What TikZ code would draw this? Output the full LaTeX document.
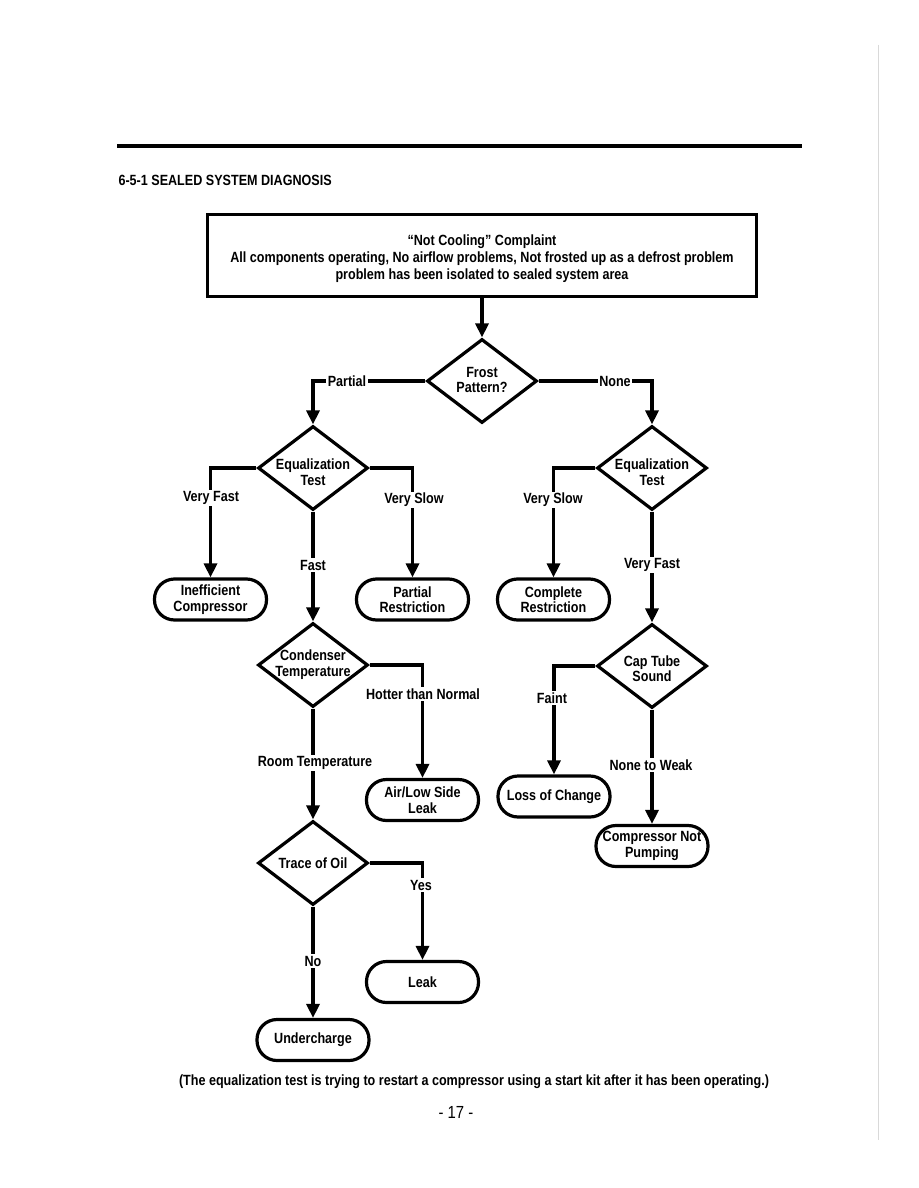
\documentclass[tikz,border=0pt]{standalone}
\usepackage{fontspec}
\setmainfont{Liberation Sans}[FakeStretch=0.85]
\usetikzlibrary{shapes.geometric,arrows.meta}
\begin{document}
\begin{tikzpicture}[x=1pt,y=-1pt,
  txt/.style={font=\fontsize{14.8}{15.5}\selectfont\bfseries},
  dec/.style={draw,line width=3.2pt,shape=diamond,minimum width=110pt,minimum height=84pt,inner sep=0pt},
  dtxt/.style={txt,align=center,inner sep=0pt},
  term/.style={txt,draw,line width=3.2pt,rounded corners=20pt,minimum width=112pt,minimum height=41pt,inner sep=0pt,align=center},
  conn/.style={line width=3.2pt,-{Triangle[length=14pt,width=13pt]}},
  lbl/.style={txt,fill=white,inner sep=1.5pt}]
\useasboundingbox[fill=white] (0,0) rectangle (918,1188);
\draw[black!15,line width=0.6pt] (878,45) -- (878,1140);
\draw[line width=3.5pt] (117,146) -- (802,146);
\node[txt,anchor=west] (title) at (115,180) {6-5-1 SEALED SYSTEM DIAGNOSIS};
% top box
\node[draw,line width=3.2pt,minimum width=549pt,minimum height=82pt] (top) at (482,255.5) {};
\node[txt,align=center,inner sep=0pt,font=\fontsize{14.8}{17}\selectfont\bfseries] (topT) at (482,258.5)
 {``Not Cooling'' Complaint\\All components operating, No airflow problems, Not frosted up as a defrost problem\\problem has been isolated to sealed system area};
% decisions
\node[dec] (frost) at (482,381) {};
\node[dtxt] (frostT) at (482,380) {Frost\\Pattern?};
\node[dec] (eqL) at (313,468) {};
\node[dtxt] (eqLT) at (313,472) {Equalization\\Test};
\node[dec] (eqR) at (652,468) {};
\node[dtxt] (eqRT) at (652,472) {Equalization\\Test};
\node[dec] (cond) at (313,665) {};
\node[dtxt] (condT) at (313,664.5) {Condenser\\Temperature};
\node[dec] (cap) at (652,666) {};
\node[dtxt] (capT) at (652,668.5) {Cap Tube\\Sound};
\node[dec] (trace) at (313,863) {};
\node[dtxt] (traceT) at (313,863) {Trace of Oil};
% terminals
\node[term] (ineff) at (210.5,599.5) {Inefficient\\Compressor};
\node[term] (partR) at (412.5,599.5) {Partial\\Restriction};
\node[term] (compR) at (553.5,599.5) {Complete\\Restriction};
\node[term] (air) at (422.5,800) {Air/Low Side\\Leak};
\node[term] (loss) at (554,796.5) {Loss of Change};
\node[term] (cnp) at (652,846) {Compressor Not\\Pumping};
\node[term] (leak) at (422.5,982) {Leak};
\node[term] (under) at (313,1040) {Undercharge};
% connectors
\draw[conn] (top.south) -- (frost.north);
\draw[conn] (frost.west) -| (eqL.north);
\draw[conn] (frost.east) -| (eqR.north);
\draw[conn] (eqL.west) -| (ineff.north);
\draw[conn] (eqL.east) -| (partR.north);
\draw[conn] (eqL.south) -- (cond.north);
\draw[conn] (eqR.west) -| (compR.north);
\draw[conn] (eqR.south) -- (cap.north);
\draw[conn] (cond.east) -| (air.north);
\draw[conn] (cond.south) -- (trace.north);
\draw[conn] (cap.west) -| (loss.north);
\draw[conn] (cap.south) -- (cnp.north);
\draw[conn] (trace.east) -| (leak.north);
\draw[conn] (trace.south) -- (under.north);
% labels
\node[lbl] (lPartial) at (347,381) {Partial};
\node[lbl] (lNone) at (615,381) {None};
\node[lbl] (lVF1) at (211,498) {Very Fast};
\node[lbl] (lVS1) at (414,500) {Very Slow};
\node[lbl] (lFast) at (313,565) {Fast};
\node[lbl] (lVS2) at (553,500) {Very Slow};
\node[lbl] (lVF2) at (652,565) {Very Fast};
\node[lbl] (lHot) at (423,694) {Hotter than Normal};
\node[lbl] (lRoom) at (315,763) {Room Temperature};
\node[lbl] (lFaint) at (552,698) {Faint};
\node[lbl] (lNtW) at (651,765) {None to Weak};
\node[lbl] (lYes) at (421,885) {Yes};
\node[lbl] (lNo) at (313,961) {No};
% footer
\node[txt] (note) at (474,1082) {(The equalization test is trying to restart a compressor using a start kit after it has been operating.)};
\node[font=\fontsize{17.5}{19}\selectfont] (page) at (456,1112) {- 17 -};
\end{tikzpicture}
\end{document}
